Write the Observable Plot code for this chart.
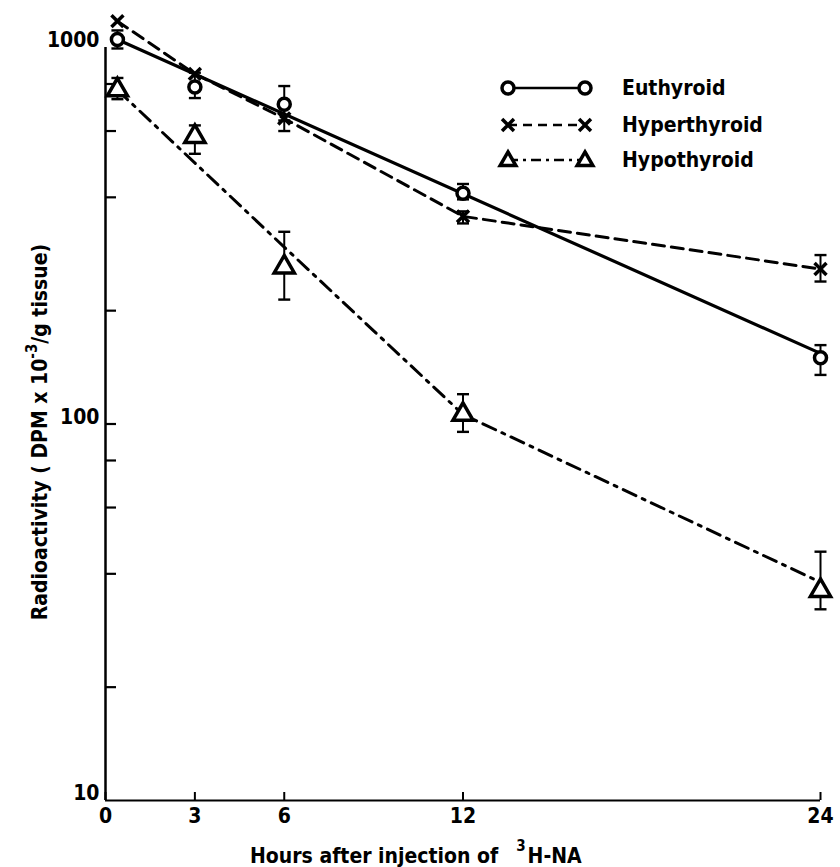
<!DOCTYPE html>
<html><head><meta charset="utf-8">
<script src="https://cdn.jsdelivr.net/npm/d3@7"></script>
<script src="https://cdn.jsdelivr.net/npm/@observablehq/plot@0.6"></script>
<style>
body{margin:0;background:#fff;}
#wrap{position:relative;width:840px;height:867px;}
svg text{font-stretch:condensed;}
</style></head><body><div id="wrap"></div>
<script>
// ---- data ----
const hours = [0.4, 3, 6, 12, 24];
const euthyroid   = [1050, 785, 707, 410, 150];
const euthyroidLo = [994, 734, 640, 395, 135];
const euthyroidHi = [1110, 857, 790, 434, 162];
const euthyroidFitHours = [0.4, 24];
const euthyroidFit = [1050, 154];
const hyperthyroid   = [1175, 851, 648, 356, 258];
const hyperthyroidLo = [null, null, 600, 341, 239];
const hyperthyroidHi = [null, null, 700, 367, 281];
const hypothyroid   = [771, 580, 261, 106, 36.1];
const hypothyroidLo = [729, 522, 214, 95.3, 32.2];
const hypothyroidHi = [830, 621, 324, 120, 45.8];
const hypoLineHours = [0.4, 6, 12, 24];
const hypoLine = [771, 295, 106, 38];
const xTicks = [0, 3, 6, 12, 24];
const yLabelTicks = [10, 100, 1000];
const yMinorTicks = [20, 40, 60, 80, 100, 200, 400, 600, 800];
const seriesNames = ["Euthyroid", "Hyperthyroid", "Hypothyroid"];
const xTitle = "Hours after injection of";
const xTitleIso = "H-NA";
const yTitleA = "Radioactivity ( DPM x 10";
const yTitleSup = "-3";
const yTitleB = "/g tissue)";

// ---- build tables ----
const pts = (vals) => hours.map((h, i) => ({h, v: vals[i]}));
const errs = (lo, hi) => hours.map((h, i) => ({h, lo: lo[i], hi: hi[i]})).filter(d => d.lo != null);
const euPts = pts(euthyroid), hyPts = pts(hyperthyroid), hoPts = pts(hypothyroid);
const euErr = errs(euthyroidLo, euthyroidHi), hyErr = errs(hyperthyroidLo, hyperthyroidHi), hoErr = errs(hypothyroidLo, hypothyroidHi);
const allErr = [...euErr, ...hyErr, ...hoErr];
const euFit = euthyroidFitHours.map((h, i) => ({h, v: euthyroidFit[i]}));
const hoLine = hypoLineHours.map((h, i) => ({h, v: hypoLine[i]}));

const FONT = '"DejaVu Sans Condensed", "DejaVu Sans", sans-serif';
const W = 840, H = 867, ML = 105, MR = 20, MT = 47, MB = 67;
const frameW = W - ML - MR, frameH = H - MT - MB;
const capSymbol = {draw(ctx, size) { const r = Math.sqrt(size / Math.PI); ctx.moveTo(-r, 0); ctx.lineTo(r, 0); }};
const DASH = "12,7", DASHDOT = "14,7,3,7";

const plot = Plot.plot({
  width: W, height: H,
  marginLeft: ML, marginRight: MR, marginTop: MT, marginBottom: MB,
  style: {fontFamily: FONT, fontWeight: "bold", fontSize: "21px", color: "#000", background: "#fff", overflow: "visible"},
  x: {domain: [0, 24]},
  y: {type: "log", domain: [10, 1000]},
  marks: [
    Plot.ruleX([0], {y1: 10, y2: 1000, strokeWidth: 2.5}),
    Plot.ruleY([10], {x1: 0, x2: 24, strokeWidth: 2.2}),
    Plot.tickX(xTicks, {x: d => d, insetTop: frameH - 8, strokeWidth: 2}),
    Plot.tickY(yMinorTicks, {y: d => d, insetRight: frameW - 11, strokeWidth: 2.2}),
    Plot.axisX({ticks: xTicks, tickSize: 0, tickPadding: 8, label: null, tickFormat: d => String(d)}),
    Plot.axisY({ticks: yLabelTicks, tickSize: 0, tickPadding: 6, label: null, dy: -7, tickFormat: d => String(d)}),
    Plot.line(euFit, {x: "h", y: "v", strokeWidth: 3.2}),
    Plot.line(hyPts, {x: "h", y: "v", strokeWidth: 3, strokeDasharray: DASH}),
    Plot.line(hoLine, {x: "h", y: "v", strokeWidth: 3, strokeDasharray: DASHDOT}),
    Plot.ruleX(allErr, {x: "h", y1: "lo", y2: "hi", strokeWidth: 2}),
    Plot.dot(allErr, {x: "h", y: "lo", symbol: capSymbol, r: 6, stroke: "#000", fill: "none", strokeWidth: 2.4}),
    Plot.dot(allErr, {x: "h", y: "hi", symbol: capSymbol, r: 6, stroke: "#000", fill: "none", strokeWidth: 2.4}),
    Plot.dot(euPts, {x: "h", y: "v", r: 6, stroke: "#000", fill: "#fff", strokeWidth: 3.5}),
    Plot.dot(hyPts, {x: "h", y: "v", symbol: "times", r: 5.5, stroke: "#000", strokeWidth: 3.5}),
    Plot.dot(hoPts, {x: "h", y: "v", symbol: "triangle", r: 7.5, stroke: "#000", fill: "#fff", strokeWidth: 3.5})
  ]
});
document.getElementById("wrap").appendChild(plot);

// ---- axis titles ----
const svg = d3.select(plot);
const yt = svg.append("text")
  .attr("transform", "translate(47,432) rotate(-90)")
  .attr("text-anchor", "middle")
  .attr("font-size", 21).attr("font-weight", "bold").attr("fill", "#000");
yt.append("tspan").text(yTitleA);
yt.append("tspan").attr("dy", -10).attr("font-size", 15).text(yTitleSup);
yt.append("tspan").attr("dy", 10).text(yTitleB);

const xt = svg.append("text")
  .attr("x", 250).attr("y", 863).attr("text-anchor", "start")
  .attr("font-size", 21).attr("font-weight", "bold").attr("fill", "#000");
xt.append("tspan").text(xTitle);
xt.append("tspan").attr("dx", 18).attr("dy", -12).attr("font-size", 15).text("3");
xt.append("tspan").attr("dy", 12).attr("dx", 2).text(xTitleIso);

// ---- legend ----
const lg = svg.append("g").attr("stroke", "#000").attr("fill", "none");
const rows = [
  {y: 88, dash: null, sym: "circle"},
  {y: 125, dash: "9,6", sym: "times"},
  {y: 160, dash: "10,5,3,5", sym: "triangle"}
];
const symMap = {circle: d3.symbolCircle, times: d3.symbolTimes, triangle: d3.symbolTriangle2};
const symSize = {circle: Math.PI * 36, times: 95, triangle: 176};
rows.forEach((r, i) => {
  lg.append("line").attr("x1", 508).attr("x2", 585).attr("y1", r.y).attr("y2", r.y)
    .attr("stroke-width", 2.5).attr("stroke-dasharray", r.dash);
  [508, 585].forEach(x => {
    lg.append("path").attr("transform", `translate(${x},${r.y + (r.sym === "triangle" ? 1 : 0)})`)
      .attr("d", d3.symbol(symMap[r.sym], symSize[r.sym])())
      .attr("fill", r.sym === "times" ? "none" : "#fff").attr("stroke-width", 3.5);
  });
  svg.append("text").attr("x", 622).attr("y", r.y).attr("dy", "0.35em").attr("text-anchor", "start")
    .attr("font-size", 21).attr("font-weight", "bold").attr("fill", "#000").text(seriesNames[i]);
});
</script></body></html>
